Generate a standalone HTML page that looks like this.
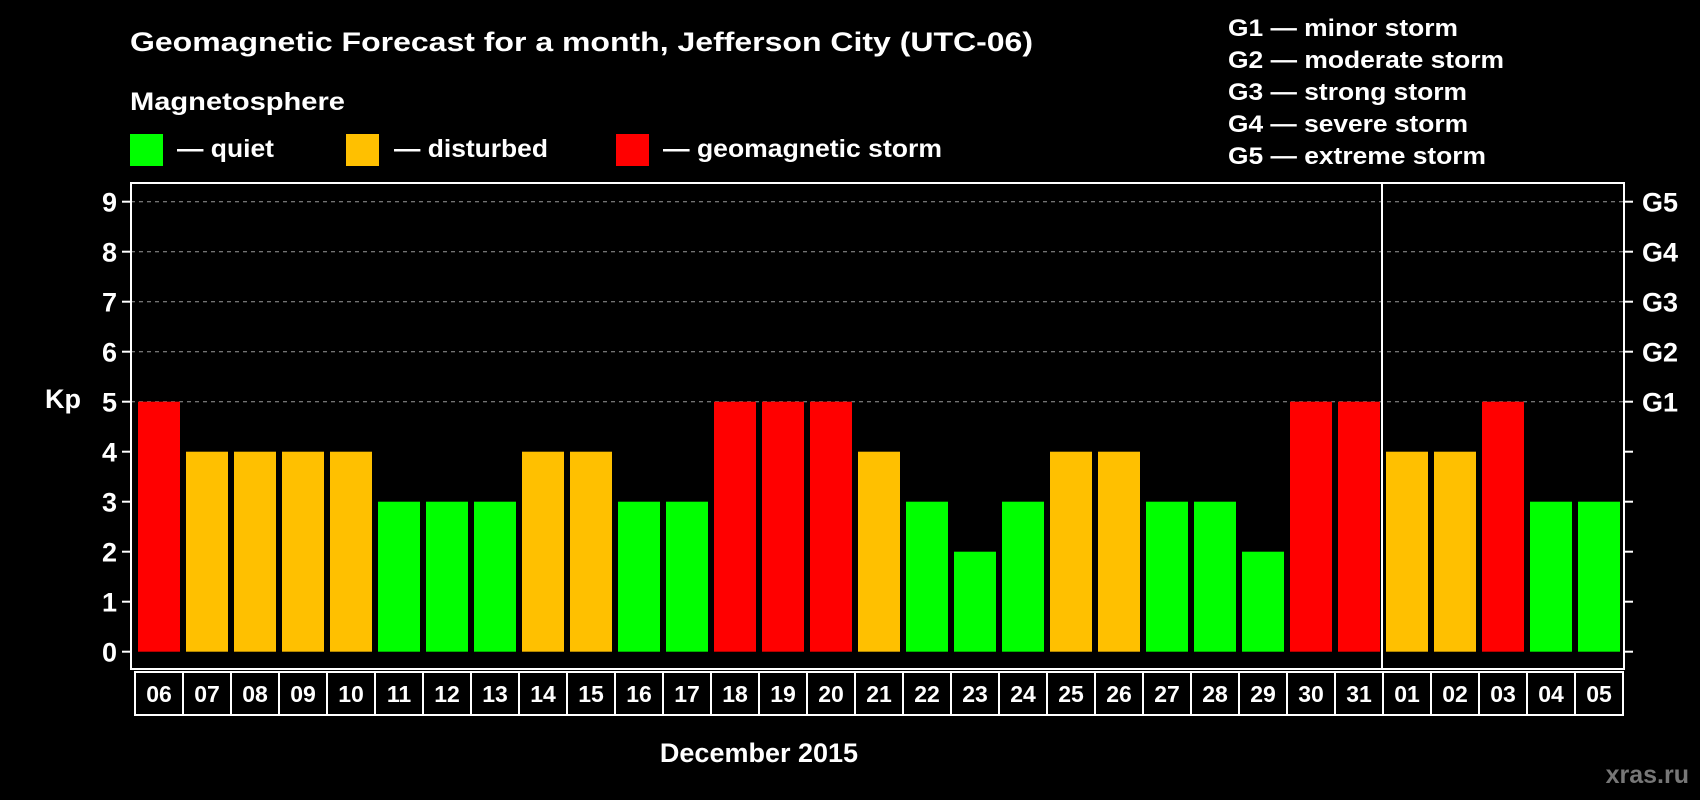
<!DOCTYPE html>
<html><head><meta charset="utf-8"><style>
html,body{margin:0;padding:0;background:#000;}
svg{display:block;font-family:"Liberation Sans",Arial,sans-serif;font-weight:bold;}
</style></head><body>
<svg id="chart" width="1700" height="800" viewBox="0 0 1700 800">
<rect width="1700" height="800" fill="#000"/>
<text x="130" y="51" fill="#fff" font-size="27" textLength="903" lengthAdjust="spacingAndGlyphs">Geomagnetic Forecast for a month, Jefferson City (UTC-06)</text>
<text x="130" y="110" fill="#fff" font-size="25" textLength="215" lengthAdjust="spacingAndGlyphs">Magnetosphere</text>
<g>
<rect x="130" y="134" width="33" height="32" fill="#00ff00"/>
<text x="177" y="157" fill="#fff" font-size="25" textLength="97" lengthAdjust="spacingAndGlyphs">— quiet</text></g>
<g>
<rect x="346" y="134" width="33" height="32" fill="#ffc000"/>
<text x="394" y="157" fill="#fff" font-size="25" textLength="154" lengthAdjust="spacingAndGlyphs">— disturbed</text></g>
<g>
<rect x="616" y="134" width="33" height="32" fill="#ff0000"/>
<text x="663" y="157" fill="#fff" font-size="25" textLength="279" lengthAdjust="spacingAndGlyphs">— geomagnetic storm</text></g>
<g fill="#fff" font-size="24">
<text x="1228" y="36" textLength="230" lengthAdjust="spacingAndGlyphs">G1 — minor storm</text>
<text x="1228" y="68" textLength="276" lengthAdjust="spacingAndGlyphs">G2 — moderate storm</text>
<text x="1228" y="100" textLength="239" lengthAdjust="spacingAndGlyphs">G3 — strong storm</text>
<text x="1228" y="132" textLength="240" lengthAdjust="spacingAndGlyphs">G4 — severe storm</text>
<text x="1228" y="164" textLength="258" lengthAdjust="spacingAndGlyphs">G5 — extreme storm</text>
</g>
<text x="63" y="408" fill="#fff" font-size="27" text-anchor="middle">Kp</text>
<text x="759" y="762" fill="#fff" font-size="27" text-anchor="middle">December 2015</text>
<text x="1689" y="783" fill="#777" font-size="25" text-anchor="end">xras.ru</text>
<g id="plot"></g>
</svg>
<script>
const days = ["06","07","08","09","10","11","12","13","14","15","16","17","18","19","20","21","22","23","24","25","26","27","28","29","30","31","01","02","03","04","05"];
const kpValues = [5,4,4,4,4,3,3,3,4,4,3,3,5,5,5,4,3,2,3,4,4,3,3,2,5,5,4,4,5,3,3];
const yTicks = [0,1,2,3,4,5,6,7,8,9];
const gLabels = ["G1","G2","G3","G4","G5"];
const gLevels = [5,6,7,8,9];
const monthBreakIndex = 26;

const NS = "http://www.w3.org/2000/svg";
const plot = document.getElementById('plot');
const L = 131, R = 1624, T = 183, B = 669;
const x0 = 138, pitch = 48, bw = 42;
const y = v => 651.7 - v * 50;
const xb = i => x0 + i * pitch;
function mk(tag, attrs, parent) {
  const e = document.createElementNS(NS, tag);
  for (const k in attrs) e.setAttribute(k, attrs[k]);
  (parent || plot).appendChild(e);
  return e;
}
function color(v) { return v >= 5 ? "#ff0000" : (v >= 4 ? "#ffc000" : "#00ff00"); }

gLevels.forEach(v => {
  const g = mk('line', {x1: L, x2: R, y1: y(v), y2: y(v), stroke: "#999", "stroke-width": 1, "stroke-dasharray": "4 4"});
  
  
});
kpValues.forEach((v, i) => {
  const r = mk('rect', {x: xb(i), y: y(v), width: bw, height: y(0) - y(v), fill: color(v)});
  
  
});
const fr = mk('rect', {x: L, y: T, width: R - L, height: B - T, fill: "none", stroke: "#fff", "stroke-width": 2});


const dx = xb(monthBreakIndex) - 4;
const dv = mk('line', {x1: dx, x2: dx, y1: T, y2: B, stroke: "#fff", "stroke-width": 2});


yTicks.forEach(v => {
  const t = mk('line', {x1: L - 9, x2: L, y1: y(v), y2: y(v), stroke: "#fff", "stroke-width": 2});
  
  
  const t2 = mk('line', {x1: R, x2: R + 9, y1: y(v), y2: y(v), stroke: "#fff", "stroke-width": 2});
  
  
  const lb = mk('text', {x: 117, y: y(v) + 10, fill: "#fff", "font-size": 27, "text-anchor": "end"});
  lb.textContent = v;
  
  
});
gLabels.forEach((g, i) => {
  const lb = mk('text', {x: 1642, y: y(gLevels[i]) + 10, fill: "#fff", "font-size": 27});
  lb.textContent = g;
  
  
});
days.forEach((d, i) => {
  const bx = mk('rect', {x: xb(i) - 3, y: 672, width: pitch, height: 43, fill: "none", stroke: "#fff", "stroke-width": 2});
  
  
  const lb = mk('text', {x: xb(i) + bw / 2, y: 702, fill: "#fff", "font-size": 23, "text-anchor": "middle"});
  lb.textContent = d;
  
  
});
</script>
</body></html>
